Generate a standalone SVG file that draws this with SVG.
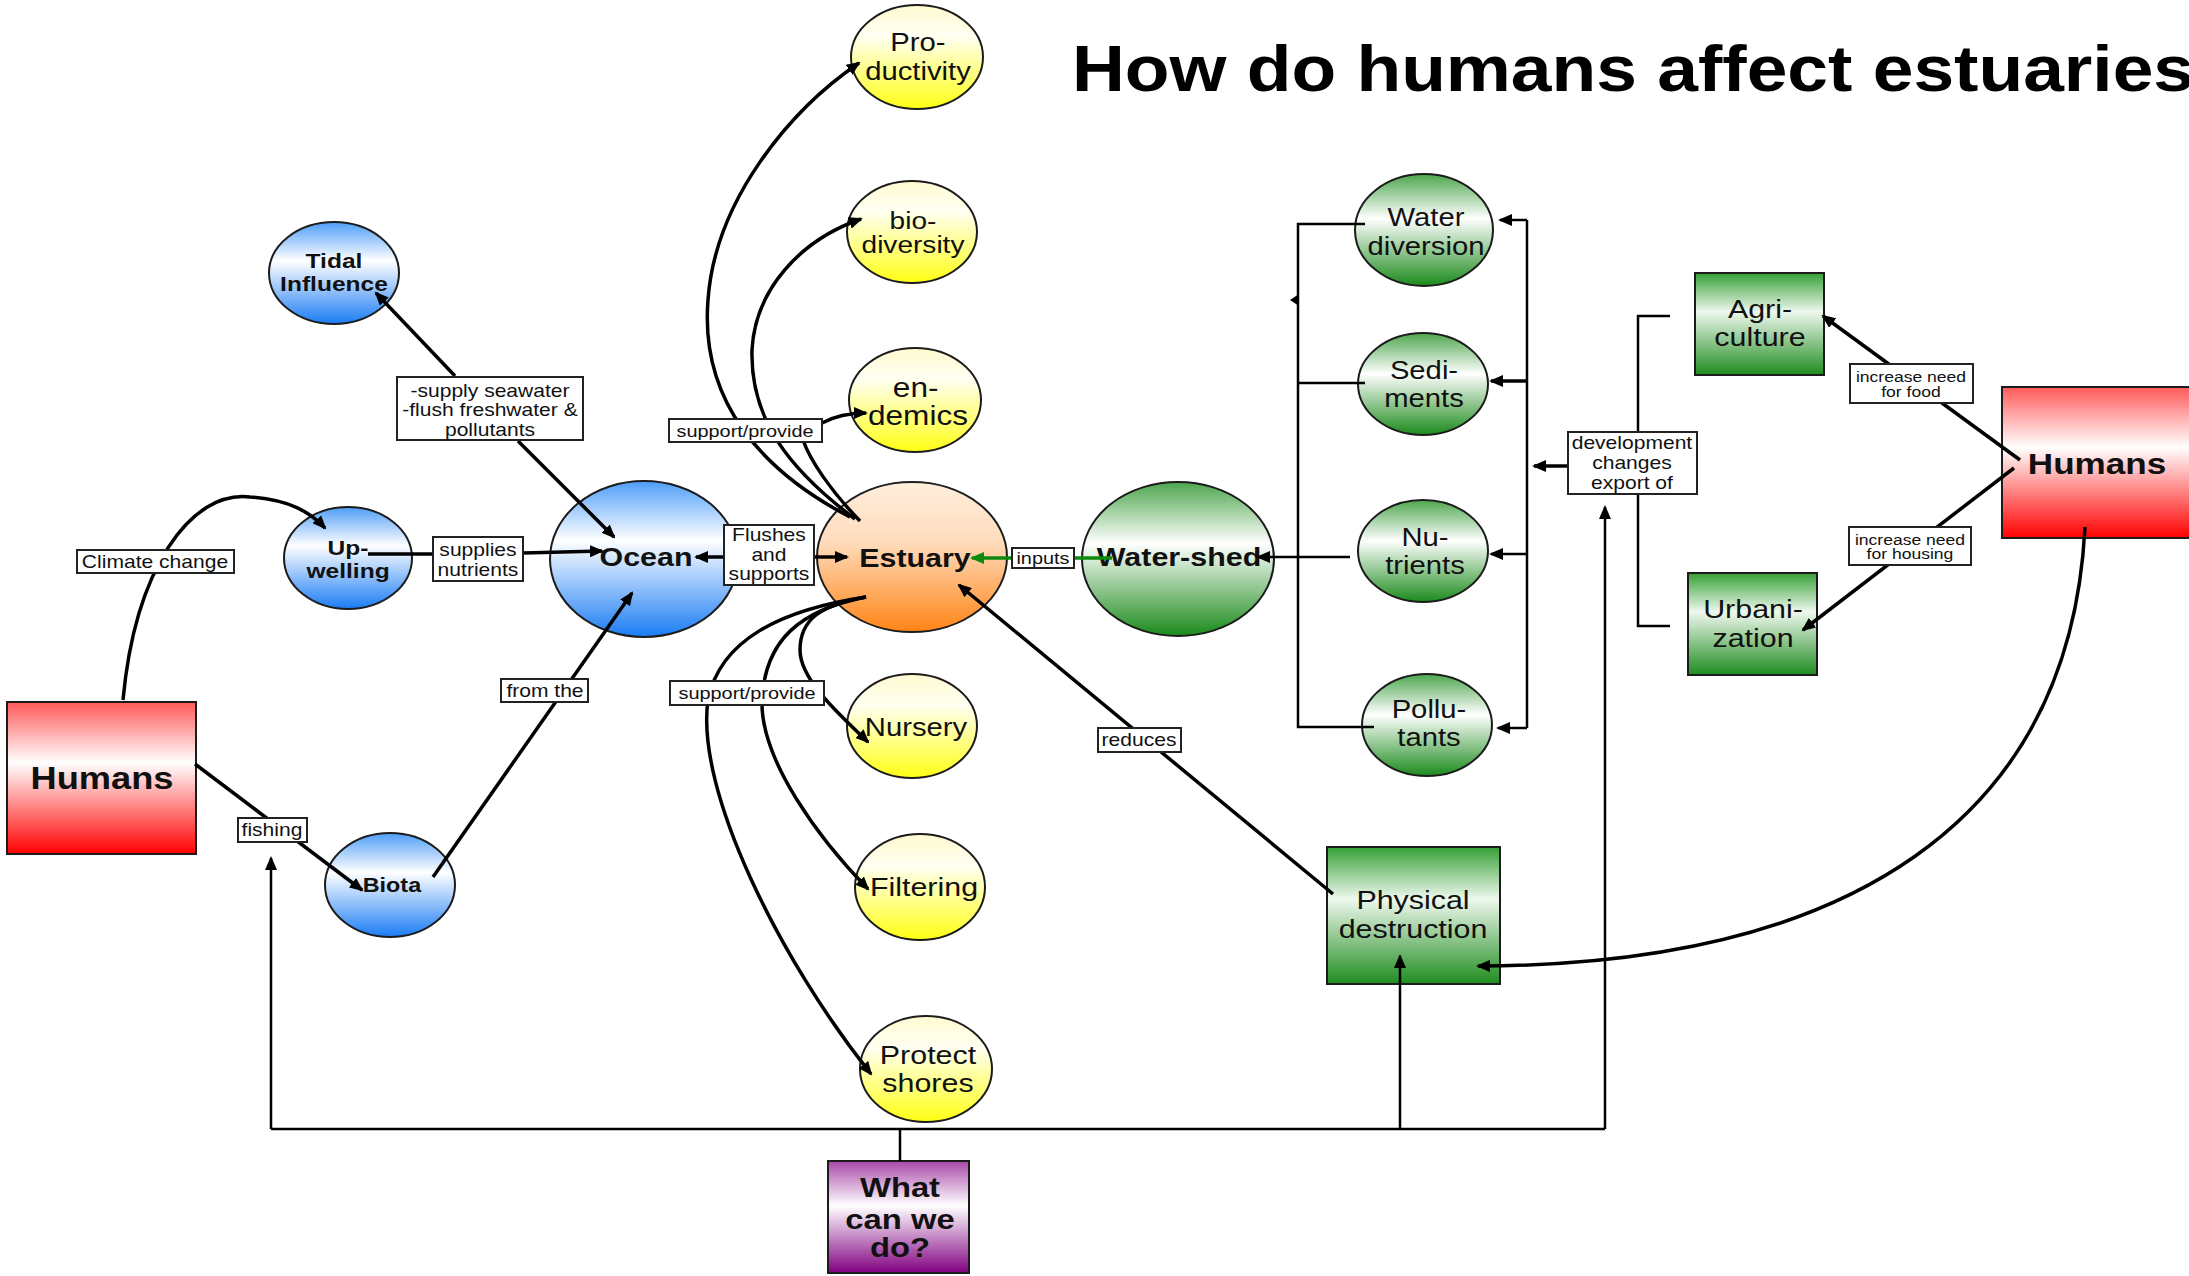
<svg xmlns="http://www.w3.org/2000/svg" width="2189" height="1276" viewBox="0 0 2189 1276">
<style>
.t{font-family:"Liberation Sans",Arial,Helvetica,sans-serif;text-anchor:middle;fill:#111;transform-box:fill-box;transform-origin:center;transform:scaleX(1.17);}
.b{font-weight:bold;}
.n{stroke:#1c1c1c;stroke-width:2;}
.lbl rect{fill:#fff;stroke:#222;stroke-width:2;}
.e{fill:none;stroke:#000;stroke-width:3.5;}
.thin{stroke-width:2.5;}
.g{stroke:#0b8a0b;}
</style>
<defs>
<linearGradient id="blue" x1="0" y1="0" x2="0" y2="1"><stop offset="0" stop-color="#4e9ef8"/><stop offset="0.38" stop-color="#ffffff"/><stop offset="1" stop-color="#1a7cf4"/></linearGradient>
<linearGradient id="yel" x1="0" y1="0" x2="0" y2="1"><stop offset="0" stop-color="#fffad0"/><stop offset="0.3" stop-color="#fffff2"/><stop offset="1" stop-color="#ffff14"/></linearGradient>
<linearGradient id="org" x1="0" y1="0" x2="0" y2="1"><stop offset="0" stop-color="#ffeedc"/><stop offset="0.4" stop-color="#ffdcbc"/><stop offset="1" stop-color="#ff8416"/></linearGradient>
<linearGradient id="grn" x1="0" y1="0" x2="0" y2="1"><stop offset="0" stop-color="#4ea64e"/><stop offset="0.4" stop-color="#ffffff"/><stop offset="1" stop-color="#1b8a1b"/></linearGradient>
<linearGradient id="grnb" x1="0" y1="0" x2="0" y2="1"><stop offset="0" stop-color="#35a035"/><stop offset="0.38" stop-color="#eef8ee"/><stop offset="1" stop-color="#1f8c1f"/></linearGradient>
<linearGradient id="red" x1="0" y1="0" x2="0" y2="1"><stop offset="0" stop-color="#ff5a5a"/><stop offset="0.4" stop-color="#ffffff"/><stop offset="1" stop-color="#ff0000"/></linearGradient>
<linearGradient id="pur" x1="0" y1="0" x2="0" y2="1"><stop offset="0" stop-color="#a848a8"/><stop offset="0.4" stop-color="#ffffff"/><stop offset="1" stop-color="#800080"/></linearGradient>
<marker id="ah" viewBox="0 0 14 12" refX="12" refY="6" markerWidth="14" markerHeight="12" orient="auto" markerUnits="userSpaceOnUse"><path d="M0,0 L14,6 L0,12 z" fill="#000"/></marker>
<marker id="ahg" viewBox="0 0 14 12" refX="12" refY="6" markerWidth="14" markerHeight="12" orient="auto" markerUnits="userSpaceOnUse"><path d="M0,0 L14,6 L0,12 z" fill="#0b8a0b"/></marker>
</defs>
<rect width="2189" height="1276" fill="#fff"/>

<g id="nodes">
<g id="n-tidal"><ellipse class="n" cx="334" cy="273" rx="65" ry="51" fill="url(#blue)"/><text class="t b" font-size="21" x="334"><tspan x="334" y="268">Tidal</tspan><tspan x="334" y="291">Influence</tspan></text></g>
<g id="n-upwelling"><ellipse class="n" cx="348" cy="558" rx="64" ry="51" fill="url(#blue)"/><text class="t b" font-size="21" x="348"><tspan x="348" y="555">Up-</tspan><tspan x="348" y="578">welling</tspan></text></g>
<g id="n-ocean"><ellipse class="n" cx="644" cy="559" rx="94" ry="78" fill="url(#blue)"/><text class="t b" font-size="26" x="646" y="566">Ocean</text></g>
<g id="n-biota"><ellipse class="n" cx="390" cy="885" rx="65" ry="52" fill="url(#blue)"/><text class="t b" font-size="20" x="392" y="892">Biota</text></g>
<g id="n-humans-left"><rect class="n" x="7" y="702" width="189" height="152" fill="url(#red)"/><text class="t b" font-size="31" x="102" y="789">Humans</text></g>
<g id="n-estuary"><ellipse class="n" cx="912" cy="557" rx="95" ry="75" fill="url(#org)"/><text class="t b" font-size="26" x="915" y="567">Estuary</text></g>
<g id="n-watershed"><ellipse class="n" cx="1178" cy="559" rx="96" ry="77" fill="url(#grn)"/><text class="t b" font-size="26" x="1179" y="566">Water-shed</text></g>
<g id="n-productivity"><ellipse class="n" cx="917" cy="57" rx="66" ry="52" fill="url(#yel)"/><text class="t" font-size="25" x="918"><tspan x="918" y="51">Pro-</tspan><tspan x="918" y="80">ductivity</tspan></text></g>
<g id="n-biodiversity"><ellipse class="n" cx="912" cy="232" rx="65" ry="51" fill="url(#yel)"/><text class="t" font-size="24" x="913"><tspan x="913" y="229">bio-</tspan><tspan x="913" y="253">diversity</tspan></text></g>
<g id="n-endemics"><ellipse class="n" cx="915" cy="400" rx="66" ry="52" fill="url(#yel)"/><text class="t" font-size="27" x="917"><tspan x="916" y="397">en-</tspan><tspan x="918" y="425">demics</tspan></text></g>
<g id="n-nursery"><ellipse class="n" cx="912" cy="726" rx="65" ry="52" fill="url(#yel)"/><text class="t" font-size="25" x="916" y="736">Nursery</text></g>
<g id="n-filtering"><ellipse class="n" cx="920" cy="887" rx="65" ry="53" fill="url(#yel)"/><text class="t" font-size="26" x="924" y="896">Filtering</text></g>
<g id="n-protect"><ellipse class="n" cx="926" cy="1069" rx="66" ry="53" fill="url(#yel)"/><text class="t" font-size="26" x="928"><tspan x="928" y="1064">Protect</tspan><tspan x="928" y="1092">shores</tspan></text></g>
<g id="n-what"><rect class="n" x="828" y="1161" width="141" height="112" fill="url(#pur)"/><text class="t b" font-size="28" x="900"><tspan x="900" y="1197">What</tspan><tspan x="900" y="1229">can we</tspan><tspan x="900" y="1257">do?</tspan></text></g>
<g id="n-physical"><rect class="n" x="1327" y="847" width="173" height="137" fill="url(#grnb)"/><text class="t" font-size="26" x="1413"><tspan x="1413" y="909">Physical</tspan><tspan x="1413" y="938">destruction</tspan></text></g>
<g id="n-waterdiv"><ellipse class="n" cx="1424" cy="230" rx="69" ry="56" fill="url(#grn)"/><text class="t" font-size="25" x="1426"><tspan x="1426" y="226">Water</tspan><tspan x="1426" y="255">diversion</tspan></text></g>
<g id="n-sediments"><ellipse class="n" cx="1423" cy="384" rx="65" ry="51" fill="url(#grn)"/><text class="t" font-size="25" x="1424"><tspan x="1424" y="379">Sedi-</tspan><tspan x="1424" y="407">ments</tspan></text></g>
<g id="n-nutrients"><ellipse class="n" cx="1423" cy="551" rx="65" ry="51" fill="url(#grn)"/><text class="t" font-size="25" x="1425"><tspan x="1425" y="546">Nu-</tspan><tspan x="1425" y="574">trients</tspan></text></g>
<g id="n-pollutants"><ellipse class="n" cx="1427" cy="725" rx="65" ry="51" fill="url(#grn)"/><text class="t" font-size="25" x="1429"><tspan x="1429" y="718">Pollu-</tspan><tspan x="1429" y="746">tants</tspan></text></g>
<g id="n-agriculture"><rect class="n" x="1695" y="273" width="129" height="102" fill="url(#grnb)"/><text class="t" font-size="26" x="1760"><tspan x="1760" y="318">Agri-</tspan><tspan x="1760" y="346">culture</tspan></text></g>
<g id="n-urbanization"><rect class="n" x="1688" y="573" width="129" height="102" fill="url(#grnb)"/><text class="t" font-size="26" x="1753"><tspan x="1753" y="618">Urbani-</tspan><tspan x="1753" y="647">zation</tspan></text></g>
<g id="n-humans-right"><rect class="n" x="2002" y="387" width="200" height="151" fill="url(#red)"/><text class="t b" font-size="30" x="2097" y="474">Humans</text></g>
</g>

<g id="connectors">
<path class="e" d="M455 376 L376 293" marker-end="url(#ah)"/>
<path class="e" d="M518 441 L614 537" marker-end="url(#ah)"/>
<path class="e" d="M123 700 C135 570 190 490 250 497 C290 500 310 512 325 528" marker-end="url(#ah)"/>
<path class="e" d="M368 554 L433 554"/>
<path class="e" d="M523 553 L602 551" marker-end="url(#ah)"/>
<path class="e" d="M195 764 L362 890" marker-end="url(#ah)"/>
<path class="e" d="M433 877 L632 593" marker-end="url(#ah)"/>
<path class="e" d="M724 557 L696 557" marker-end="url(#ah)"/>
<path class="e" d="M814 557 L847 557" marker-end="url(#ah)"/>
<path class="e g" d="M1112 558 L1074 558"/>
<path class="e g" d="M1012 558 L972 558" marker-end="url(#ahg)"/>
<path class="e" d="M850 517 C760 470 700 400 708 300 C715 200 790 110 859 63" marker-end="url(#ah)"/>
<path class="e" d="M855 519 C790 470 750 420 752 350 C755 290 800 240 861 219" marker-end="url(#ah)"/>
<path class="e" d="M860 521 C830 490 810 460 803 440"/>
<path class="e" d="M822 423 C835 416 848 413 866 413" marker-end="url(#ah)"/>
<path class="e" d="M866 597 C820 605 800 620 800 650 C800 680 840 715 868 742" marker-end="url(#ah)"/>
<path class="e" d="M866 597 C800 610 765 640 762 700 C760 760 820 840 868 889" marker-end="url(#ah)"/>
<path class="e" d="M866 597 C780 610 720 640 708 700 C695 790 780 960 871 1074" marker-end="url(#ah)"/>
<path class="e" d="M1333 894 L959 585" marker-end="url(#ah)"/>
<path class="e thin" d="M1365 224 L1298 224 L1298 727 L1374 727 M1298 383 L1365 383"/>
<path class="e thin" d="M1350 557 L1258 557" marker-end="url(#ah)"/>
<path d="M1290 300 L1299 294 L1299 306 z" fill="#000"/>
<path class="e thin" d="M1527 220 L1527 728"/>
<path class="e thin" d="M1527 220 L1500 220" marker-end="url(#ah)"/>
<path class="e" d="M1527 381 L1491 381" marker-end="url(#ah)"/>
<path class="e thin" d="M1527 554 L1491 554" marker-end="url(#ah)"/>
<path class="e thin" d="M1527 728 L1498 728" marker-end="url(#ah)"/>
<path class="e" d="M1568 466 L1534 466" marker-end="url(#ah)"/>
<path class="e thin" d="M1670 316 L1638 316 L1638 626 L1670 626"/>
<path class="e" d="M2020 460 L1823 316" marker-end="url(#ah)"/>
<path class="e" d="M2014 468 L1803 630" marker-end="url(#ah)"/>
<path class="e" d="M2085 527 C2070 820 1850 965 1478 966" marker-end="url(#ah)"/>
<path class="e thin" d="M900 1161 L900 1129 M271 1129 L1605 1129"/>
<path class="e thin" d="M271 1129 L271 858" marker-end="url(#ah)"/>
<path class="e thin" d="M1400 1129 L1400 956" marker-end="url(#ah)"/>
<path class="e thin" d="M1605 1129 L1605 507" marker-end="url(#ah)"/>
</g>

<g id="labels">
<g class="lbl"><rect x="397" y="377" width="186" height="63"/><text class="t" font-size="18" x="490"><tspan x="490" y="397">-supply seawater</tspan><tspan x="490" y="416">-flush freshwater &amp;</tspan><tspan x="490" y="436">pollutants</tspan></text></g>
<g class="lbl"><rect x="77" y="550" width="157" height="23"/><text class="t" font-size="18" x="155" y="568">Climate change</text></g>
<g class="lbl"><rect x="433" y="537" width="90" height="44"/><text class="t" font-size="18" x="478"><tspan x="478" y="556">supplies</tspan><tspan x="478" y="576">nutrients</tspan></text></g>
<g class="lbl"><rect x="501" y="679" width="87" height="23"/><text class="t" font-size="18" x="545" y="697">from the</text></g>
<g class="lbl"><rect x="238" y="818" width="69" height="24"/><text class="t" font-size="18" x="272" y="836">fishing</text></g>
<g class="lbl"><rect x="669" y="419" width="153" height="23"/><text class="t" font-size="17" x="745" y="437">support/provide</text></g>
<g class="lbl"><rect x="724" y="525" width="90" height="60"/><text class="t" font-size="18" x="769"><tspan x="769" y="541">Flushes</tspan><tspan x="769" y="561">and</tspan><tspan x="769" y="580">supports</tspan></text></g>
<g class="lbl"><rect x="1012" y="548" width="62" height="20"/><text class="t" font-size="17" x="1043" y="564">inputs</text></g>
<g class="lbl"><rect x="670" y="681" width="154" height="24"/><text class="t" font-size="17" x="747" y="699">support/provide</text></g>
<g class="lbl"><rect x="1098" y="728" width="83" height="24"/><text class="t" font-size="18" x="1139" y="746">reduces</text></g>
<g class="lbl"><rect x="1568" y="432" width="129" height="62"/><text class="t" font-size="18" x="1632"><tspan x="1632" y="449">development</tspan><tspan x="1632" y="469">changes</tspan><tspan x="1632" y="489">export of</tspan></text></g>
<g class="lbl"><rect x="1850" y="364" width="123" height="39"/><text class="t" font-size="15" x="1911"><tspan x="1911" y="382">increase need</tspan><tspan x="1911" y="397">for food</tspan></text></g>
<g class="lbl"><rect x="1849" y="527" width="122" height="38"/><text class="t" font-size="15" x="1910"><tspan x="1910" y="545">increase need</tspan><tspan x="1910" y="559">for housing</tspan></text></g>
</g>

<text id="title" x="1072" y="91" font-family="Liberation Sans, Arial, sans-serif" font-weight="bold" font-size="64" fill="#000" textLength="1122" lengthAdjust="spacingAndGlyphs">How do humans affect estuaries</text>
</svg>
